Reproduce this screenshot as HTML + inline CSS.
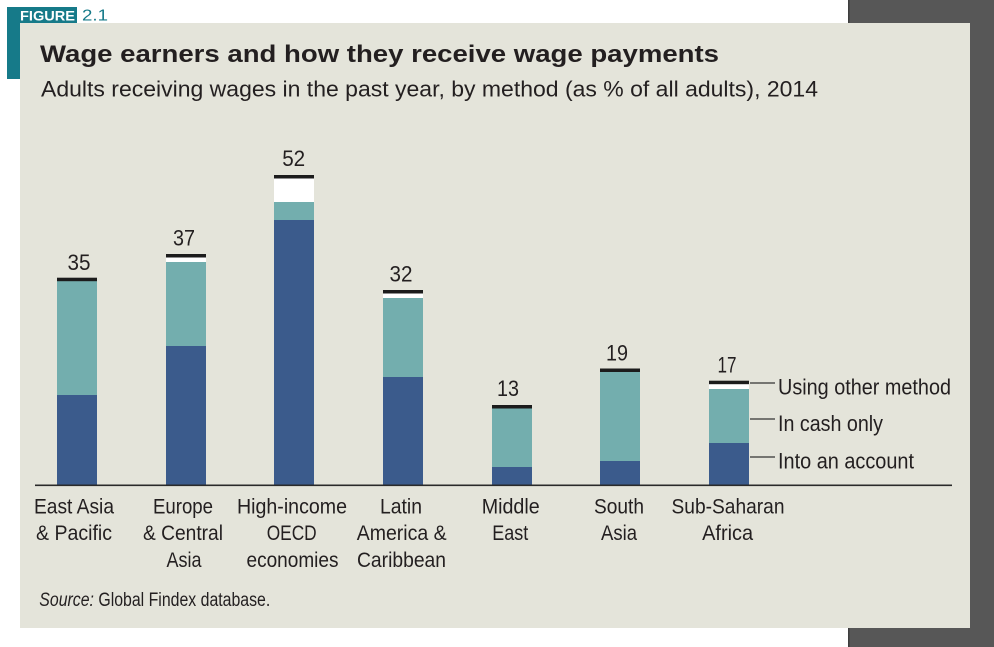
<!DOCTYPE html>
<html>
<head>
<meta charset="utf-8">
<style>
  html,body{margin:0;padding:0;background:#fff;}
  body{width:994px;height:647px;overflow:hidden;}
  svg{display:block;}
  .c{font-family:"Liberation Sans Narrow","Liberation Sans",sans-serif;fill:#231f20;}
</style>
</head>
<body>
<svg width="994" height="647" viewBox="0 0 994 647" xmlns="http://www.w3.org/2000/svg">
  <!-- dark gray side panel -->
  <rect x="848" y="0" width="146" height="647" fill="#575757"/>
  <rect x="848" y="0" width="1.5" height="647" fill="#3e3e3e"/>
  <!-- teal tab -->
  <rect x="7" y="7" width="70" height="16" fill="#167a89"/>
  <rect x="7" y="7" width="13" height="72" fill="#167a89"/>
  <text x="20" y="20.5" font-family="'Liberation Sans',sans-serif" font-weight="bold" font-size="14" fill="#fff" textLength="55" lengthAdjust="spacingAndGlyphs">FIGURE</text>
  <text x="82" y="20.7" font-family="'Liberation Sans',sans-serif" font-size="15.5" fill="#167a89" textLength="26" lengthAdjust="spacingAndGlyphs">2.1</text>
  <!-- beige panel -->
  <rect x="20" y="23" width="950" height="605" fill="#e4e4da"/>
  <!-- title -->
  <text x="40" y="62" font-family="'Liberation Sans',sans-serif" font-weight="bold" font-size="24" fill="#231f20" textLength="679" lengthAdjust="spacingAndGlyphs">Wage earners and how they receive wage payments</text>
  <text x="41" y="96.7" font-family="'Liberation Sans',sans-serif" font-size="22.5" fill="#231f20" textLength="777" lengthAdjust="spacingAndGlyphs">Adults receiving wages in the past year, by method (as % of all adults), 2014</text>

  <!-- bars -->
  <g>
    <!-- 1 East Asia -->
    <rect x="57" y="395" width="40" height="90" fill="#3b5b8c"/>
    <rect x="57" y="281" width="40" height="114" fill="#73aeae"/>
    <rect x="57" y="277.7" width="40" height="3.5" fill="#1c1c1c"/>
    <!-- 2 Europe -->
    <rect x="166" y="346" width="40" height="139" fill="#3b5b8c"/>
    <rect x="166" y="262" width="40" height="84" fill="#73aeae"/>
    <rect x="166" y="257" width="40" height="5" fill="#ffffff"/>
    <rect x="166" y="254" width="40" height="3.5" fill="#1c1c1c"/>
    <!-- 3 High income -->
    <rect x="274" y="220" width="40" height="265" fill="#3b5b8c"/>
    <rect x="274" y="202" width="40" height="18" fill="#73aeae"/>
    <rect x="274" y="178" width="40" height="24" fill="#ffffff"/>
    <rect x="274" y="175" width="40" height="3.5" fill="#1c1c1c"/>
    <!-- 4 Latin America -->
    <rect x="383" y="377" width="40" height="108" fill="#3b5b8c"/>
    <rect x="383" y="298" width="40" height="79" fill="#73aeae"/>
    <rect x="383" y="293" width="40" height="5" fill="#ffffff"/>
    <rect x="383" y="290" width="40" height="3.5" fill="#1c1c1c"/>
    <!-- 5 Middle East -->
    <rect x="492" y="467" width="40" height="18" fill="#3b5b8c"/>
    <rect x="492" y="408" width="40" height="59" fill="#73aeae"/>
    <rect x="492" y="405" width="40" height="3.5" fill="#1c1c1c"/>
    <!-- 6 South Asia -->
    <rect x="600" y="461" width="40" height="24" fill="#3b5b8c"/>
    <rect x="600" y="372" width="40" height="89" fill="#73aeae"/>
    <rect x="600" y="368.5" width="40" height="3.5" fill="#1c1c1c"/>
    <!-- 7 SSA -->
    <rect x="709" y="443" width="40" height="42" fill="#3b5b8c"/>
    <rect x="709" y="389" width="40" height="54" fill="#73aeae"/>
    <rect x="709" y="384" width="40" height="5" fill="#ffffff"/>
    <rect x="709" y="380.7" width="40" height="3.5" fill="#1c1c1c"/>
  </g>

  <!-- baseline -->
  <rect x="35" y="484.5" width="917" height="1.6" fill="#2a2a2a"/>

  <!-- value labels -->
  <g class="c" font-size="22" text-anchor="middle">
    <text x="79" y="270" textLength="23" lengthAdjust="spacingAndGlyphs">35</text>
    <text x="184" y="245.3" textLength="22" lengthAdjust="spacingAndGlyphs">37</text>
    <text x="293.7" y="166" textLength="23" lengthAdjust="spacingAndGlyphs">52</text>
    <text x="401" y="281.7" textLength="23" lengthAdjust="spacingAndGlyphs">32</text>
    <text x="508" y="396" textLength="22" lengthAdjust="spacingAndGlyphs">13</text>
    <text x="617" y="360.7" textLength="22" lengthAdjust="spacingAndGlyphs">19</text>
    <text x="727" y="372.3" textLength="19" lengthAdjust="spacingAndGlyphs">17</text>
  </g>

  <!-- legend -->
  <g stroke="#333" stroke-width="1.3">
    <line x1="750" y1="383" x2="775" y2="383"/>
    <line x1="750" y1="419" x2="775" y2="419"/>
    <line x1="750" y1="457" x2="775" y2="457"/>
  </g>
  <g class="c" font-size="22.5">
    <text x="778" y="394.5" textLength="173" lengthAdjust="spacingAndGlyphs">Using other method</text>
    <text x="778" y="431" textLength="105" lengthAdjust="spacingAndGlyphs">In cash only</text>
    <text x="778" y="468.5" textLength="136" lengthAdjust="spacingAndGlyphs">Into an account</text>
  </g>

  <!-- category labels -->
  <g class="c" font-size="21" text-anchor="middle">
    <text x="74" y="513.5" textLength="80" lengthAdjust="spacingAndGlyphs">East Asia</text>
    <text x="74" y="540" textLength="76" lengthAdjust="spacingAndGlyphs">&amp; Pacific</text>

    <text x="183" y="513.5" textLength="60" lengthAdjust="spacingAndGlyphs">Europe</text>
    <text x="183" y="540" textLength="80" lengthAdjust="spacingAndGlyphs">&amp; Central</text>
    <text x="184" y="567" textLength="35" lengthAdjust="spacingAndGlyphs">Asia</text>

    <text x="292" y="513.5" textLength="110" lengthAdjust="spacingAndGlyphs">High-income</text>
    <text x="291.7" y="540" textLength="50" lengthAdjust="spacingAndGlyphs">OECD</text>
    <text x="292.5" y="567" textLength="92" lengthAdjust="spacingAndGlyphs">economies</text>

    <text x="401" y="513.5" textLength="42" lengthAdjust="spacingAndGlyphs">Latin</text>
    <text x="401.7" y="540" textLength="90" lengthAdjust="spacingAndGlyphs">America &amp;</text>
    <text x="401.5" y="567" textLength="89" lengthAdjust="spacingAndGlyphs">Caribbean</text>

    <text x="510.7" y="513.5" textLength="58" lengthAdjust="spacingAndGlyphs">Middle</text>
    <text x="510.3" y="540" textLength="36" lengthAdjust="spacingAndGlyphs">East</text>

    <text x="619" y="513.5" textLength="50" lengthAdjust="spacingAndGlyphs">South</text>
    <text x="619" y="540" textLength="36" lengthAdjust="spacingAndGlyphs">Asia</text>

    <text x="728" y="513.5" textLength="113" lengthAdjust="spacingAndGlyphs">Sub-Saharan</text>
    <text x="727.6" y="540" textLength="51" lengthAdjust="spacingAndGlyphs">Africa</text>
  </g>

  <!-- source -->
  <text class="c" x="39.3" y="606" font-size="19" textLength="231" lengthAdjust="spacingAndGlyphs"><tspan font-style="italic">Source:</tspan> Global Findex database.</text>
</svg>
</body>
</html>
